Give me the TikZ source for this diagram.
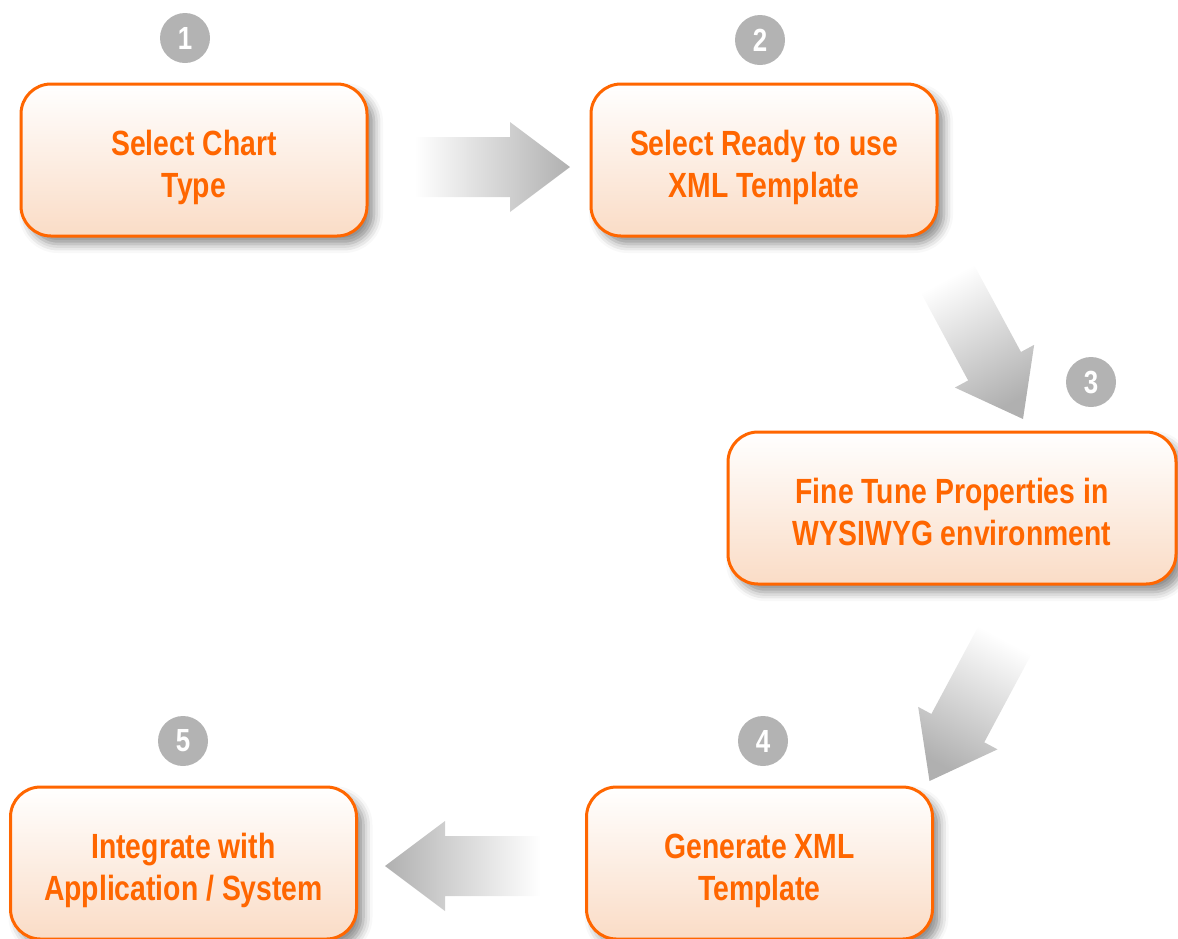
\documentclass[tikz,border=0pt]{standalone}
\usepackage{fontspec}
\usepackage{tikz}
\usetikzlibrary{calc}
\usetikzlibrary{shadows.blur}
\newfontfamily\flowfont[FakeStretch=0.81]{Liberation Sans}
\definecolor{flowOrange}{HTML}{FF6600}
\definecolor{flowPeach}{HTML}{FADCC6}
\definecolor{flowGray}{HTML}{B3B3B3}
\definecolor{arrowGray}{HTML}{B0B0B0}
\tikzstyle{stage}=[rectangle, rounded corners=30pt, draw=flowOrange, line width=3pt, top color=white, bottom color=flowPeach, minimum width=346pt, minimum height=152pt, text=flowOrange, align=center, text height=80pt, text depth=6pt, font=\flowfont\bfseries\fontsize{35}{42}\selectfont, blur shadow={shadow xshift=7pt, shadow yshift=-8pt, shadow blur radius=9pt, shadow opacity=45}]
\tikzstyle{num}=[circle, fill=flowGray, text=white, minimum size=50pt, inner sep=0pt, font=\flowfont\bfseries\fontsize{32}{32}\selectfont]
\tikzstyle{flow}=[to path={($(\tikztostart)!30pt!90:(\tikztotarget)$) -- ($(\tikztotarget)!60pt!(\tikztostart)!30pt!90:(\tikztotarget)$) -- ($(\tikztotarget)!60pt!(\tikztostart)!45pt!90:(\tikztotarget)$) -- (\tikztotarget) -- ($(\tikztotarget)!60pt!(\tikztostart)!45pt!-90:(\tikztotarget)$) -- ($(\tikztotarget)!60pt!(\tikztostart)!30pt!-90:(\tikztotarget)$) -- ($(\tikztostart)!30pt!-90:(\tikztotarget)$) -- cycle}]

\begin{document}
\begin{tikzpicture}[x=1pt, y=-1pt]
	\useasboundingbox (0,0) rectangle (1178,938);
	\draw (194,160) node[stage] (s1) {Select Chart\\Type};
	\draw (764,160) node[stage] (s2) {Select Ready to use\\XML Template};
	\draw (952,508) node[stage, minimum width=448pt] (s3) {Fine Tune Properties in\\WYSIWYG environment};
	\draw (759.5,863) node[stage] (s4) {Generate XML\\Template};
	\draw (183.5,863) node[stage] (s5) {Integrate with\\Application / System};
	\draw (185,38) node[num] (n1) {1};
	\draw (760,40) node[num] (n2) {2};
	\draw (1091,382) node[num] (n3) {3};
	\draw (763,741) node[num] (n4) {4};
	\draw (183,741) node[num] (n5) {5};
	\coordinate (a1) at (415,167);
	\coordinate (b1) at (570,167);
	\coordinate (a2) at (947,278);
	\coordinate (b2) at (1023,419);
	\coordinate (a3) at (1005,640);
	\coordinate (b3) at (929.5,781);
	\coordinate (a4) at (540,866);
	\coordinate (b4) at (385,866);
	\shade[flow, left color=white, right color=arrowGray] (a1) to (b1);
	\shade[flow, top color=arrowGray, bottom color=white, shading angle=-151.7] (a2) to (b2);
	\shade[flow, top color=arrowGray, bottom color=white, shading angle=151.8] (a3) to (b3);
	\shade[flow, left color=arrowGray, right color=white] (a4) to (b4);
\end{tikzpicture}
\end{document}
